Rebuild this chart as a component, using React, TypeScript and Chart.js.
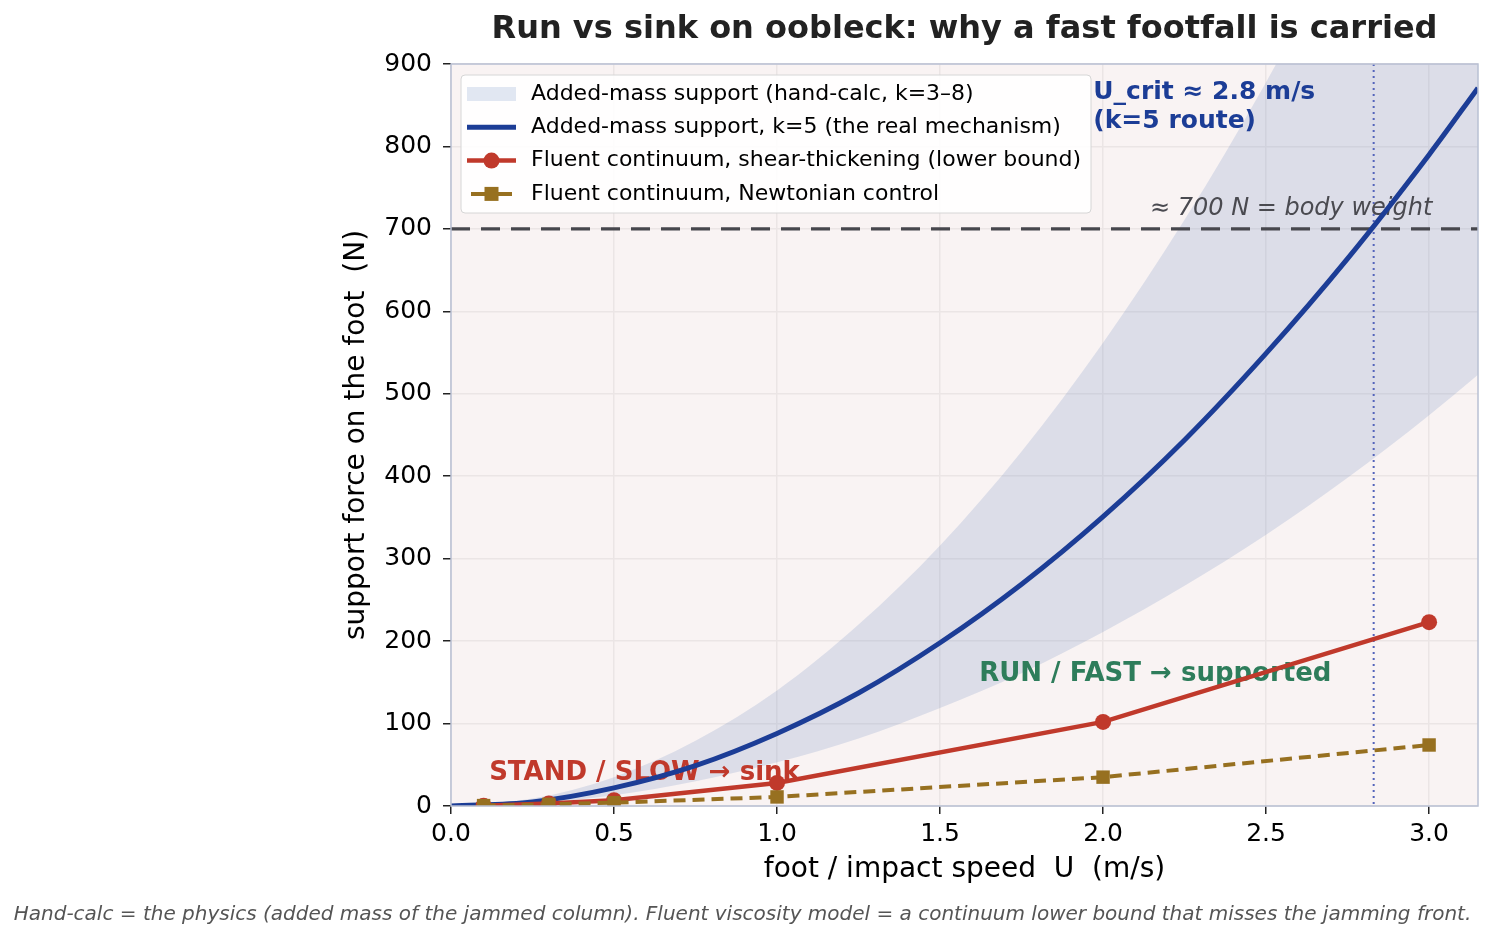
import { useEffect, useRef } from 'react';
import { Chart, registerables } from 'chart.js';

Chart.register(...registerables);

// foot speed U (m/s) grid for the hand-calc curves
const speedGrid = [0, 0.25, 0.5, 0.75, 1.0, 1.25, 1.5, 1.75, 2.0, 2.25, 2.5, 2.75, 3.0, 3.15];
// added-mass support band, k=3 (lower) and k=8 (upper), in N
const bandLow = [0, 3, 13, 30, 53, 82, 119, 161, 211, 267, 329, 398, 474, 523];
const bandHigh = [0, 9, 35, 79, 140, 220, 316, 430, 562, 711, 878, 1063, 1265, 1394];
// added-mass support, k=5
const addedMassK5 = [0, 5, 22, 49, 88, 137, 198, 269, 351, 444, 549, 664, 790, 871];

// Fluent runs
const fluentSpeeds = [0.1, 0.3, 0.5, 1.0, 2.0, 3.0];
const shearThickening = [0.4, 3, 7, 28, 102, 223];
const newtonian = [0.5, 2, 4, 11, 35, 74];

const xTicks = [0, 0.5, 1.0, 1.5, 2.0, 2.5, 3.0];
const yTicks = [0, 100, 200, 300, 400, 500, 600, 700, 800, 900];

const bodyWeight = 700;
const uCrit = 2.83;

const FONT = '"DejaVu Sans", sans-serif';
const BLUE = '#1c3d96';
const RED = '#c0392b';
const GOLD = '#977020';
const GREEN = '#2e7d5b';
const BAND = 'rgba(104, 133, 188, 0.2)';

export default function App() {
  const canvasRef = useRef<HTMLCanvasElement>(null);
  const chartInstance = useRef<Chart | null>(null);

  useEffect(() => {
    if (!canvasRef.current) return;
    const ctx = canvasRef.current.getContext('2d');
    if (!ctx) return;

    if (chartInstance.current) {
      chartInstance.current.destroy();
    }

    const pts = (xs: number[], ys: number[]) => xs.map((x, i) => ({ x, y: ys[i] }));

    const overlay = {
      id: 'overlay',
      beforeDraw(chart: any) {
        const { ctx, chartArea: a } = chart;
        ctx.save();
        ctx.fillStyle = '#f9f3f3';
        ctx.fillRect(a.left, a.top, a.right - a.left, a.bottom - a.top);
        ctx.restore();
      },
      // after the band: reference lines and the in-plot notes, under the curves
      afterDatasetDraw(chart: any, args: any) {
        if (args.index !== 1) return;
        const { ctx, chartArea: a } = chart;
        const xs = chart.scales.x;
        const ys = chart.scales.y;
        ctx.save();
        ctx.beginPath();
        ctx.rect(a.left, a.top, a.right - a.left, a.bottom - a.top);
        ctx.clip();

        // body weight
        const yBW = ys.getPixelForValue(bodyWeight);
        ctx.strokeStyle = '#47474d';
        ctx.lineWidth = 3.2;
        ctx.setLineDash([19, 11]);
        ctx.beginPath();
        ctx.moveTo(a.left, yBW);
        ctx.lineTo(a.right, yBW);
        ctx.stroke();

        // U_crit
        const xU = xs.getPixelForValue(uCrit);
        ctx.strokeStyle = '#5464bb';
        ctx.lineWidth = 2;
        ctx.setLineDash([2, 4]);
        ctx.beginPath();
        ctx.moveTo(xU, a.top);
        ctx.lineTo(xU, a.bottom);
        ctx.stroke();
        ctx.setLineDash([]);

        ctx.textBaseline = 'middle';
        ctx.font = `italic 24px ${FONT}`;
        ctx.fillStyle = '#4a4a50';
        ctx.textAlign = 'right';
        ctx.fillText('≈ 700 N = body weight', xs.getPixelForValue(3.01), ys.getPixelForValue(725));

        ctx.textAlign = 'left';
        ctx.font = `bold 25px ${FONT}`;
        ctx.fillStyle = BLUE;
        ctx.fillText('U_crit ≈ 2.8 m/s', xs.getPixelForValue(1.97), ys.getPixelForValue(866));
        ctx.fillText('(k=5 route)', xs.getPixelForValue(1.97), ys.getPixelForValue(830));

        ctx.font = `bold 26px ${FONT}`;
        ctx.fillStyle = GREEN;
        ctx.fillText('RUN / FAST → supported', xs.getPixelForValue(1.62), ys.getPixelForValue(160));
        ctx.fillStyle = RED;
        ctx.fillText('STAND / SLOW → sink', xs.getPixelForValue(0.117), ys.getPixelForValue(40));
        ctx.restore();
      },
      afterDraw(chart: any) {
        const { ctx, chartArea: a, width, height } = chart;
        ctx.save();
        // frame
        ctx.strokeStyle = '#b9c0d3';
        ctx.lineWidth = 1.5;
        ctx.strokeRect(a.left, a.top, a.right - a.left, a.bottom - a.top);

        // legend
        const lx = a.left + 10;
        const ly = a.top + 11;
        const lw = 630;
        const lh = 138;
        ctx.beginPath();
        ctx.roundRect(lx, ly, lw, lh, 4);
        ctx.fillStyle = 'rgba(255,255,255,0.88)';
        ctx.fill();
        ctx.strokeStyle = '#d6d6d6';
        ctx.lineWidth = 1;
        ctx.stroke();

        const labels = chart.data.datasets.filter((d: any) => d.label).map((d: any) => d.label);
        const h0 = lx + 6;
        const h1 = lx + 55;
        const hc = (h0 + h1) / 2;
        ctx.font = `22px ${FONT}`;
        ctx.textBaseline = 'middle';
        ctx.textAlign = 'left';
        labels.forEach((label: string, i: number) => {
          const ry = ly + 19 + i * 33.3;
          if (i === 0) {
            ctx.fillStyle = '#fff';
            ctx.fillRect(h0, ry - 7, h1 - h0, 14);
            ctx.fillStyle = BAND;
            ctx.fillRect(h0, ry - 7, h1 - h0, 14);
          } else if (i === 1) {
            ctx.strokeStyle = BLUE;
            ctx.lineWidth = 5;
            ctx.beginPath();
            ctx.moveTo(h0, ry);
            ctx.lineTo(h1, ry);
            ctx.stroke();
          } else if (i === 2) {
            ctx.strokeStyle = RED;
            ctx.lineWidth = 4.5;
            ctx.beginPath();
            ctx.moveTo(h0, ry);
            ctx.lineTo(h1, ry);
            ctx.stroke();
            ctx.fillStyle = RED;
            ctx.beginPath();
            ctx.arc(hc, ry, 8, 0, Math.PI * 2);
            ctx.fill();
          } else {
            ctx.strokeStyle = GOLD;
            ctx.lineWidth = 4;
            ctx.beginPath();
            ctx.moveTo(h0 + 4, ry);
            ctx.lineTo(h1 - 4, ry);
            ctx.stroke();
            ctx.fillStyle = GOLD;
            ctx.fillRect(hc - 7, ry - 7, 14, 14);
          }
          ctx.fillStyle = '#000';
          ctx.fillText(label, lx + 70, ry);
        });

        // title
        const cx = (a.left + a.right) / 2;
        ctx.fillStyle = '#222';
        ctx.textAlign = 'center';
        ctx.font = `bold 32px ${FONT}`;
        ctx.fillText('Run vs sink on oobleck: why a fast footfall is carried', cx, 30);

        // axis titles
        ctx.fillStyle = '#000';
        ctx.font = `28px ${FONT}`;
        ctx.fillText('foot / impact speed  U  (m/s)', cx, 870);
        ctx.save();
        ctx.translate(357, (a.top + a.bottom) / 2);
        ctx.rotate(-Math.PI / 2);
        ctx.fillText('support force on the foot  (N)', 0, 0);
        ctx.restore();

        // caption
        ctx.fillStyle = '#555';
        ctx.font = `italic 20px ${FONT}`;
        ctx.fillText(
          'Hand-calc = the physics (added mass of the jammed column). Fluent viscosity model = a continuum lower bound that misses the jamming front.',
          width / 2 - 5,
          height - 29
        );
        ctx.restore();
      },
    };

    const tickFont = { family: FONT, size: 25 };

    chartInstance.current = new Chart(ctx, {
      type: 'line',
      data: {
        datasets: [
          {
            label: '',
            data: pts(speedGrid, bandLow),
            borderWidth: 0,
            pointRadius: 0,
            fill: false,
            cubicInterpolationMode: 'monotone',
            order: 10,
          },
          {
            label: 'Added-mass support (hand-calc, k=3–8)',
            data: pts(speedGrid, bandHigh),
            borderWidth: 0,
            pointRadius: 0,
            backgroundColor: BAND,
            fill: '-1',
            cubicInterpolationMode: 'monotone',
            order: 9,
          },
          {
            label: 'Added-mass support, k=5 (the real mechanism)',
            data: pts(speedGrid, addedMassK5),
            borderColor: BLUE,
            borderWidth: 5,
            pointRadius: 0,
            fill: false,
            cubicInterpolationMode: 'monotone',
            clip: 0,
            order: 3,
          },
          {
            label: 'Fluent continuum, shear-thickening (lower bound)',
            data: pts(fluentSpeeds, shearThickening),
            borderColor: RED,
            backgroundColor: RED,
            borderWidth: 4.5,
            pointRadius: 8,
            pointBorderWidth: 0,
            fill: false,
            tension: 0,
            clip: 0,
            order: 2,
          },
          {
            label: 'Fluent continuum, Newtonian control',
            data: pts(fluentSpeeds, newtonian),
            borderColor: GOLD,
            backgroundColor: GOLD,
            borderWidth: 4,
            borderDash: [12, 7],
            pointStyle: 'rect',
            pointRadius: 9.5,
            pointBorderWidth: 0,
            fill: false,
            tension: 0,
            clip: 0,
            order: 1,
          },
        ],
      },
      options: {
        responsive: true,
        maintainAspectRatio: false,
        animation: false,
        events: [],
        layout: { padding: { top: 64, right: 17, bottom: 0, left: 0 } },
        plugins: {
          legend: { display: false },
          title: { display: false },
          tooltip: { enabled: false },
        },
        scales: {
          x: {
            type: 'linear',
            min: 0,
            max: 3.15,
            afterBuildTicks: (s: any) => {
              s.ticks = xTicks.map((v) => ({ value: v }));
            },
            afterFit: (s: any) => {
              s.height = 138;
            },
            ticks: {
              autoSkip: false,
              maxRotation: 0,
              color: '#000',
              font: tickFont,
              padding: 5,
              callback: (v: any) => Number(v).toFixed(1),
            },
            grid: {
              color: '#ebe5e5',
              lineWidth: 1.5,
              tickColor: '#222',
              tickLength: 8,
              tickWidth: 1.5,
            },
            border: { display: false },
          },
          y: {
            type: 'linear',
            min: 0,
            max: 900,
            afterBuildTicks: (s: any) => {
              s.ticks = yTicks.map((v) => ({ value: v }));
            },
            afterFit: (s: any) => {
              s.width = 451;
            },
            ticks: {
              autoSkip: false,
              color: '#000',
              font: tickFont,
              padding: 11,
            },
            grid: {
              color: '#ebe5e5',
              lineWidth: 1.5,
              tickColor: '#222',
              tickLength: 8,
              tickWidth: 1.5,
            },
            border: { display: false },
          },
        },
      },
      plugins: [overlay],
    } as any);

    return () => {
      if (chartInstance.current) {
        chartInstance.current.destroy();
        chartInstance.current = null;
      }
    };
  }, []);

  return (
    <div style={{ position: 'absolute', left: 0, top: 0, width: 1495, height: 944, background: '#fff' }}>
      <canvas ref={canvasRef}></canvas>
    </div>
  );
}
